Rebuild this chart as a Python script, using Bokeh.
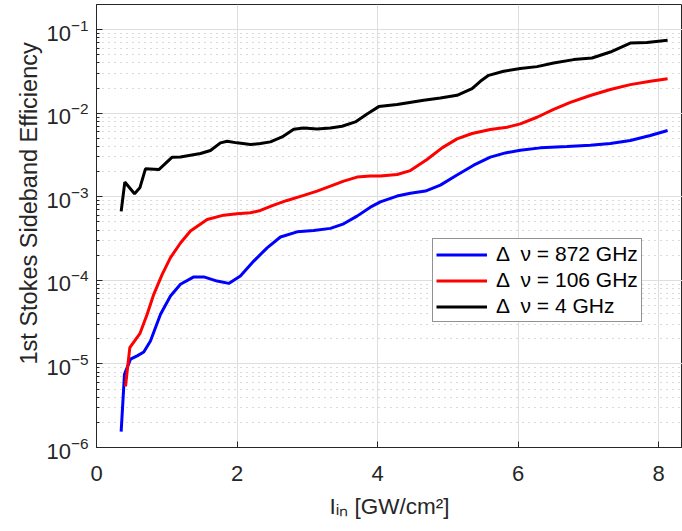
from bokeh.plotting import figure
from bokeh.models import Range1d, Legend, LegendItem, FixedTicker, LogTickFormatter, Title
from bokeh.embed import file_html
from bokeh.resources import INLINE

# ---- data ----
x_872 = [0.351, 0.398, 0.484, 0.579, 0.673, 0.768, 0.911, 1.053, 1.195, 1.385, 1.527, 1.717,
         1.882, 2.048, 2.238, 2.428, 2.618, 2.855, 3.091, 3.329, 3.518, 3.708, 3.898, 4.04,
         4.278, 4.467, 4.681, 4.894, 5.131, 5.368, 5.605, 5.819, 6.032, 6.317, 6.696, 7.028,
         7.313, 7.597, 7.882, 8.128]
eff_872 = [1.55e-6, 7.5e-6, 1.14e-5, 1.25e-5, 1.39e-5, 1.88e-5, 3.93e-5, 6.5e-5, 8.97e-5, 1.10e-4,
           1.10e-4, 9.8e-5, 9.2e-5, 1.13e-4, 1.70e-4, 2.45e-4, 3.30e-4, 3.81e-4, 3.96e-4, 4.19e-4,
           4.75e-4, 5.87e-4, 7.52e-4, 8.7e-4, 1.02e-3, 1.10e-3, 1.17e-3, 1.38e-3, 1.82e-3, 2.39e-3,
           2.98e-3, 3.35e-3, 3.61e-3, 3.85e-3, 4.00e-3, 4.14e-3, 4.34e-3, 4.72e-3, 5.41e-3, 6.21e-3]

x_106 = [0.413, 0.474, 0.617, 0.721, 0.815, 0.935, 1.053, 1.195, 1.337, 1.575, 1.811, 2.0,
         2.191, 2.333, 2.522, 2.712, 2.949, 3.139, 3.329, 3.518, 3.708, 3.898, 4.04, 4.278,
         4.467, 4.704, 4.918, 5.131, 5.345, 5.605, 5.843, 6.032, 6.270, 6.506, 6.744, 7.028,
         7.313, 7.597, 7.882, 8.128]
eff_106 = [5.4e-6, 1.57e-5, 2.30e-5, 3.93e-5, 6.81e-5, 1.18e-4, 1.87e-4, 2.8e-4, 3.89e-4, 5.36e-4,
           6.03e-4, 6.25e-4, 6.43e-4, 6.87e-4, 7.95e-4, 9.04e-4, 1.04e-3, 1.17e-3, 1.34e-3, 1.54e-3,
           1.72e-3, 1.77e-3, 1.77e-3, 1.85e-3, 2.06e-3, 2.79e-3, 3.85e-3, 4.93e-3, 5.72e-3, 6.38e-3,
           6.80e-3, 7.45e-3, 8.95e-3, 1.11e-2, 1.35e-2, 1.63e-2, 1.92e-2, 2.20e-2, 2.41e-2, 2.59e-2]

x_4 = [0.351, 0.403, 0.541, 0.617, 0.697, 0.887, 0.967, 1.077, 1.195, 1.337, 1.480, 1.622,
       1.764, 1.859, 2.0, 2.191, 2.333, 2.475, 2.642, 2.807, 2.949, 3.139, 3.329, 3.495,
       3.684, 3.851, 4.017, 4.278, 4.657, 4.894, 5.131, 5.345, 5.463, 5.581, 5.795, 6.032,
       6.270, 6.506, 6.791, 7.052, 7.313, 7.597, 7.835, 8.128]
eff_4 = [6.7e-4, 1.50e-3, 1.09e-3, 1.28e-3, 2.16e-3, 2.12e-3, 2.44e-3, 2.98e-3, 3.0e-3, 3.15e-3,
         3.30e-3, 3.58e-3, 4.42e-3, 4.62e-3, 4.42e-3, 4.22e-3, 4.34e-3, 4.54e-3, 5.21e-3, 6.44e-3,
         6.67e-3, 6.49e-3, 6.67e-3, 6.98e-3, 7.87e-3, 9.8e-3, 1.2e-2, 1.27e-2, 1.43e-2, 1.52e-2,
         1.64e-2, 1.97e-2, 2.41e-2, 2.84e-2, 3.18e-2, 3.42e-2, 3.61e-2, 3.99e-2, 4.38e-2, 4.58e-2,
         5.40e-2, 6.92e-2, 7.0e-2, 7.45e-2]

labels = ["\u0394\u2002\u03bd = 872 GHz", "\u0394\u2002\u03bd = 106 GHz", "\u0394\u2002\u03bd = 4 GHz"]
x_ticks = [0, 2, 4, 6, 8]
y_ticks = [1e-6, 1e-5, 1e-4, 1e-3, 1e-2, 1e-1]
x_label = "I\u1d62\u2099 [GW/cm\u00b2]"
y_label = "1st Stokes Sideband Efficiency"

FONT = "Liberation Sans"
AX = "#262626"

p = figure(width=682, height=531, y_axis_type="log",
           x_range=Range1d(0, 8.34), y_range=Range1d(1e-6, 0.2),
           output_backend="svg", toolbar_location=None,
           min_border_left=96, min_border_right=0, min_border_top=4, min_border_bottom=84)
p.outline_line_color = AX
p.outline_line_width = 1
p.background_fill_color = "white"
p.border_fill_color = "white"

minor = [m * d for d in y_ticks[:-1] for m in range(2, 10)] + [0.2]
p.yaxis.ticker = FixedTicker(ticks=y_ticks, minor_ticks=minor)
p.yaxis.formatter = LogTickFormatter()
p.xaxis.ticker = FixedTicker(ticks=x_ticks)

for ax in (p.xaxis[0], p.yaxis[0]):
    ax.axis_line_color = AX
    ax.major_tick_line_color = AX
    ax.minor_tick_line_color = AX
    ax.major_tick_in = 6
    ax.major_tick_out = 0
    ax.minor_tick_in = 3
    ax.minor_tick_out = 0
    ax.major_label_text_font = FONT
    ax.major_label_text_font_size = "22px"
    ax.major_label_text_color = AX
    ax.axis_label_text_font = FONT
    ax.axis_label_text_font_style = "normal"
    ax.axis_label_text_color = AX

p.xaxis.major_label_standoff = 18
p.yaxis.major_label_standoff = 8
p.xaxis.axis_label = x_label
p.xaxis.axis_label_text_font_size = "22.5px"
p.xaxis.axis_label_standoff = 10

ytitle = Title(text=y_label, align="left", offset=83, text_font=FONT,
               text_font_size="23.5px", text_font_style="normal", text_color=AX,
               standoff=4)
p.add_layout(ytitle, "left")

p.xgrid.ticker = FixedTicker(ticks=x_ticks)
p.xgrid.grid_line_color = "#dedede"
p.ygrid.grid_line_color = "#dedede"
p.ygrid.minor_grid_line_color = "#b4b4b4"
p.ygrid.minor_grid_line_dash = "1 5"
p.ygrid.minor_grid_line_width = 1

rb = p.line(x_872, eff_872, line_color="#0000ff", line_width=3)
rr = p.line(x_106, eff_106, line_color="#ff0000", line_width=3)
rk = p.line(x_4, eff_4, line_color="#000000", line_width=3)

legend = Legend(items=[LegendItem(label=labels[0], renderers=[rb]),
                       LegendItem(label=labels[1], renderers=[rr]),
                       LegendItem(label=labels[2], renderers=[rk])],
                location=(336, 125), orientation="vertical",
                border_line_color=AX, border_line_width=1,
                background_fill_color="white", background_fill_alpha=1,
                label_text_font=FONT, label_text_font_size="21px", label_text_color="black",
                glyph_width=51, glyph_height=23, label_height=23, spacing=2,
                padding=3, margin=0, label_standoff=9)
p.add_layout(legend)

open("out.html", "w").write(file_html(p, INLINE))
